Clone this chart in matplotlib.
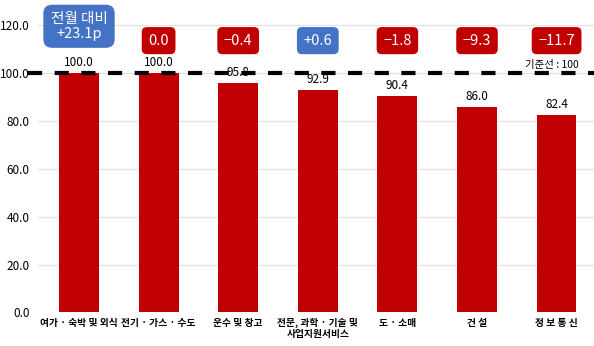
import matplotlib.pyplot as plt

plt.rcParams['font.family'] = ['Liberation Sans Narrow', 'Noto Sans CJK KR', 'DejaVu Sans']

categories = ['여가 · 숙박 및 외식', '전기 · 가스 · 수도', '운수 및 창고',
              '전문, 과학 · 기술 및\n사업지원서비스', '도 · 소매', '건 설', '정 보 통 신']
values = [100.0, 100.0, 95.8, 92.9, 90.4, 86.0, 82.4]
changes = ['전월 대비\n+23.1p', '0.0', '\u22120.4', '+0.6', '\u22121.8', '\u22129.3', '\u221211.7']
change_up = [True, False, False, True, False, False, False]
baseline = 100

red = '#C00000'
blue = '#4472C4'

fig = plt.figure(figsize=(5.94, 3.46), dpi=100)
ax = fig.add_axes([0.064, 0.097, 0.936, 0.899])

x = range(len(categories))
ax.bar(x, values, width=0.5, color=red, zorder=2)

# value labels above each bar
for i, v in enumerate(values):
    ax.text(i, v + 1.6, f'{v:.1f}', ha='center', va='bottom', fontsize=8.5, zorder=4)

# month-over-month change badges
for i, c in enumerate(changes):
    col = blue if change_up[i] else red
    if i == 0:
        ax.text(i, 119.6, c, ha='center', va='center', fontsize=10.5, color='white',
                linespacing=1.05,
                bbox=dict(boxstyle='round,pad=0.5,rounding_size=0.6', fc=col, ec='none'))
    else:
        ax.text(i, 113.6, c, ha='center', va='center', fontsize=10.5, color='white',
                bbox=dict(boxstyle='round,pad=0.45,rounding_size=0.35', fc=col, ec='none'))

# baseline at 100
ax.plot([-0.64, 6.5], [baseline, baseline], color='black', linestyle=(0, (3.4, 3.0)),
        linewidth=3, zorder=3, clip_on=False)
ax.text(5.94, 103.5, '기준선 : 100', ha='center', va='center', fontsize=7.5)

ax.set_xlim(-0.515, 6.47)
ax.set_ylim(0, 130)
ax.set_yticks(range(0, 121, 20))
ax.set_yticklabels([f'{t:.1f}' for t in range(0, 121, 20)], fontsize=8.5)
ax.set_xticks(list(x))
ax.set_xticklabels(categories, fontsize=7, fontweight='bold', linespacing=1.15)
ax.tick_params(axis='y', length=0, pad=6)
ax.tick_params(axis='x', length=0, pad=4)
ax.grid(axis='y', color='#E2E2E2', linewidth=0.8, zorder=0)
for s in ax.spines.values():
    s.set_visible(False)

fig.savefig('out.png', dpi=100)
